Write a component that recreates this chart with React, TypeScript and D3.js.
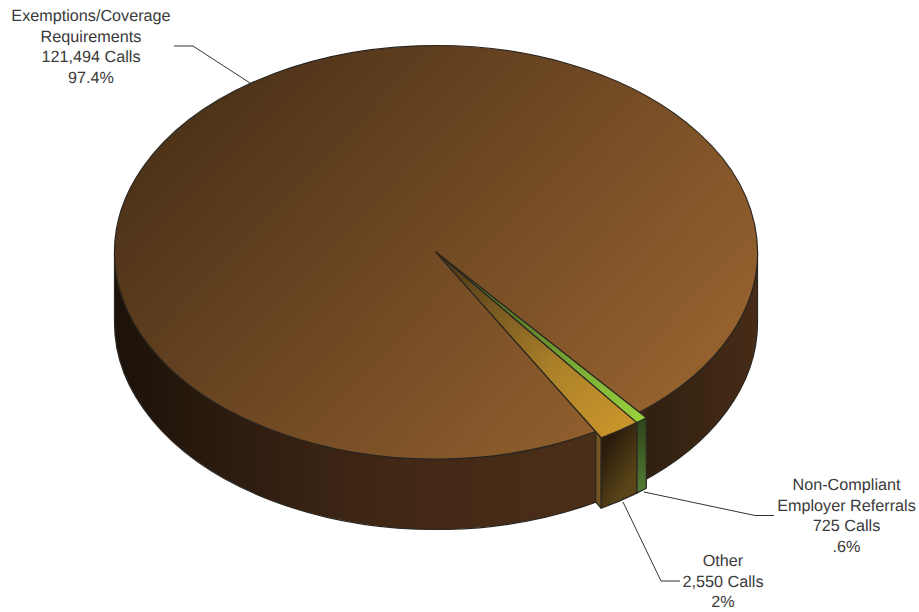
import React from "react";
import * as d3 from "d3";

const categories = ["Exemptions/Coverage Requirements", "Non-Compliant Employer Referrals", "Other"];
const calls = [121494, 725, 2550];
const labelLines = [
  ["Exemptions/Coverage", "Requirements", "121,494 Calls", "97.4%"],
  ["Non-Compliant", "Employer Referrals", "725 Calls", ".6%"],
  ["Other", "2,550 Calls", "2%"],
];
const labelAnchors: [number, number][] = [[91, 21], [846.5, 490], [723, 566]];
const leaderLines: [number, number][][] = [
  [[174, 46], [193, 46], [250, 83]],
  [[644, 492], [755, 515.5], [774, 515.5]],
  [[623, 502], [661, 581], [680, 581]],
];

const W = 919, H = 612;
const x = d3.scaleLinear().domain([-1, 1]).range([114.5, 757.5]);
const y = d3.scaleLinear().domain([-1, 1]).range([45.5, 459]);
const rx = (x(1) - x(-1)) / 2, ry = (y(1) - y(-1)) / 2;
const depth = 70.5;
const STROKE = "#2b2620";
const START = (150.2 * Math.PI) / 180;
const EXPLODE = 1.034;

const pie = d3.pie<number>().sort(null).startAngle(START).endAngle(START + 2 * Math.PI);
const arcs = pie(calls);

const pt = (a: number, k = 1, dz = 0): [number, number] => [x(Math.sin(a) * k), y(-Math.cos(a) * k) + dz];
const P = (p: [number, number]) => `${p[0].toFixed(2)},${p[1].toFixed(2)}`;
const arcTo = (a: number, k: number, sweep: number, large: number, dz = 0) =>
  `A${rx * k},${ry * k} 0 ${large} ${sweep} ${P(pt(a, k, dz))}`;
const wedge = (a0: number, a1: number, k = 1) => {
  const large = Math.abs(a1 - a0) > Math.PI ? 1 : 0;
  return `M${P(pt(0, 0))}L${P(pt(a0, k))}${arcTo(a1, k, 1, large)}Z`;
};
const side = (a0: number, a1: number, k = 1) => {
  const large = Math.abs(a1 - a0) > Math.PI ? 1 : 0;
  return `M${P(pt(a0, k))}${arcTo(a1, k, 1, large)}L${P(pt(a1, k, depth))}${arcTo(a0, k, 0, large, depth)}Z`;
};

const [brown, green, orange] = arcs;
const D90 = Math.PI / 2, D360 = 2 * Math.PI;
const brownEnd = brown.endAngle - D360;

export default function App() {
  const strokeProps = { stroke: STROKE, strokeWidth: 1.2, strokeLinejoin: "round" as const };
  return (
    <svg width={W} height={H} viewBox={`0 0 ${W} ${H}`} style={{ position: "absolute", left: 0, top: 0, background: "#fff" }}>
      <defs>
        <linearGradient id="topBrown" gradientUnits="userSpaceOnUse" x1={225} y1={85} x2={605} y2={450}>
          <stop offset="0" stopColor="#4e3319" />
          <stop offset="1" stopColor="#93602e" />
        </linearGradient>
        <linearGradient id="sideBrown" gradientUnits="userSpaceOnUse" x1={114} y1={0} x2={758} y2={0}>
          <stop offset="0" stopColor="#1c1209" />
          <stop offset="0.16" stopColor="#2a1a0e" />
          <stop offset="0.4" stopColor="#402715" />
          <stop offset="0.7" stopColor="#4a2e18" />
          <stop offset="0.815" stopColor="#4a2e18" />
          <stop offset="0.83" stopColor="#30200f" />
          <stop offset="1" stopColor="#472c17" />
        </linearGradient>
        <linearGradient id="topOrange" gradientUnits="userSpaceOnUse" x1={440} y1={256} x2={620} y2={430}>
          <stop offset="0" stopColor="#4a3518" />
          <stop offset="0.65" stopColor="#ad8229" />
          <stop offset="1" stopColor="#c8952b" />
        </linearGradient>
        <linearGradient id="topGreen" gradientUnits="userSpaceOnUse" x1={440} y1={256} x2={640} y2={420}>
          <stop offset="0" stopColor="#38481c" />
          <stop offset="0.7" stopColor="#7cae35" />
          <stop offset="1" stopColor="#98d03c" />
        </linearGradient>
        <linearGradient id="frontOrange" gradientUnits="userSpaceOnUse" x1={604} y1={450} x2={637} y2={470}>
          <stop offset="0" stopColor="#2a1b0b" />
          <stop offset="1" stopColor="#594518" />
        </linearGradient>
        <linearGradient id="frontGreen" gradientUnits="userSpaceOnUse" x1={637} y1={425} x2={645} y2={490}>
          <stop offset="0" stopColor="#30481c" />
          <stop offset="1" stopColor="#527a33" />
        </linearGradient>
      </defs>

      <g {...strokeProps}>
        <path d={side(D90, brownEnd)} fill="url(#sideBrown)" />
        <path d={side(START, D90 * 3)} fill="url(#sideBrown)" />
        <path d={wedge(brown.startAngle, brown.endAngle)} fill="url(#topBrown)" />

        {/* cut wall and outer faces of the pulled-out slices */}
        <path
          d={`M${P(pt(orange.endAngle - D360))}L${P(pt(orange.endAngle - D360, EXPLODE))}L${P(pt(orange.endAngle - D360, EXPLODE, depth))}L${P(pt(orange.endAngle - D360, 1, depth))}Z`}
          fill="#735622"
        />
        <path d={side(green.startAngle - D360, green.endAngle - D360, EXPLODE)} fill="url(#frontGreen)" />
        <path d={side(orange.startAngle - D360, orange.endAngle - D360, EXPLODE)} fill="url(#frontOrange)" />
        <path d={wedge(green.startAngle - D360, green.endAngle - D360, EXPLODE)} fill="url(#topGreen)" />
        <path d={wedge(orange.startAngle - D360, orange.endAngle - D360, EXPLODE)} fill="url(#topOrange)" />
      </g>

      {leaderLines.map((pts, i) => (
        <path key={categories[i]} d={d3.line()(pts) ?? ""} fill="none" stroke="#333" strokeWidth={1} />
      ))}

      {labelLines.map((lines, i) => (
        <text
          key={categories[i]}
          textAnchor="middle"
          fontFamily="'Liberation Sans', Arial, sans-serif"
          fontSize={16.2}
          textRendering="geometricPrecision"
          fill="#3a3a3a"
        >
          {lines.map((l, j) => (
            <tspan key={j} x={labelAnchors[i][0]} y={labelAnchors[i][1] + j * 20.5}>{l}</tspan>
          ))}
        </text>
      ))}
    </svg>
  );
}
